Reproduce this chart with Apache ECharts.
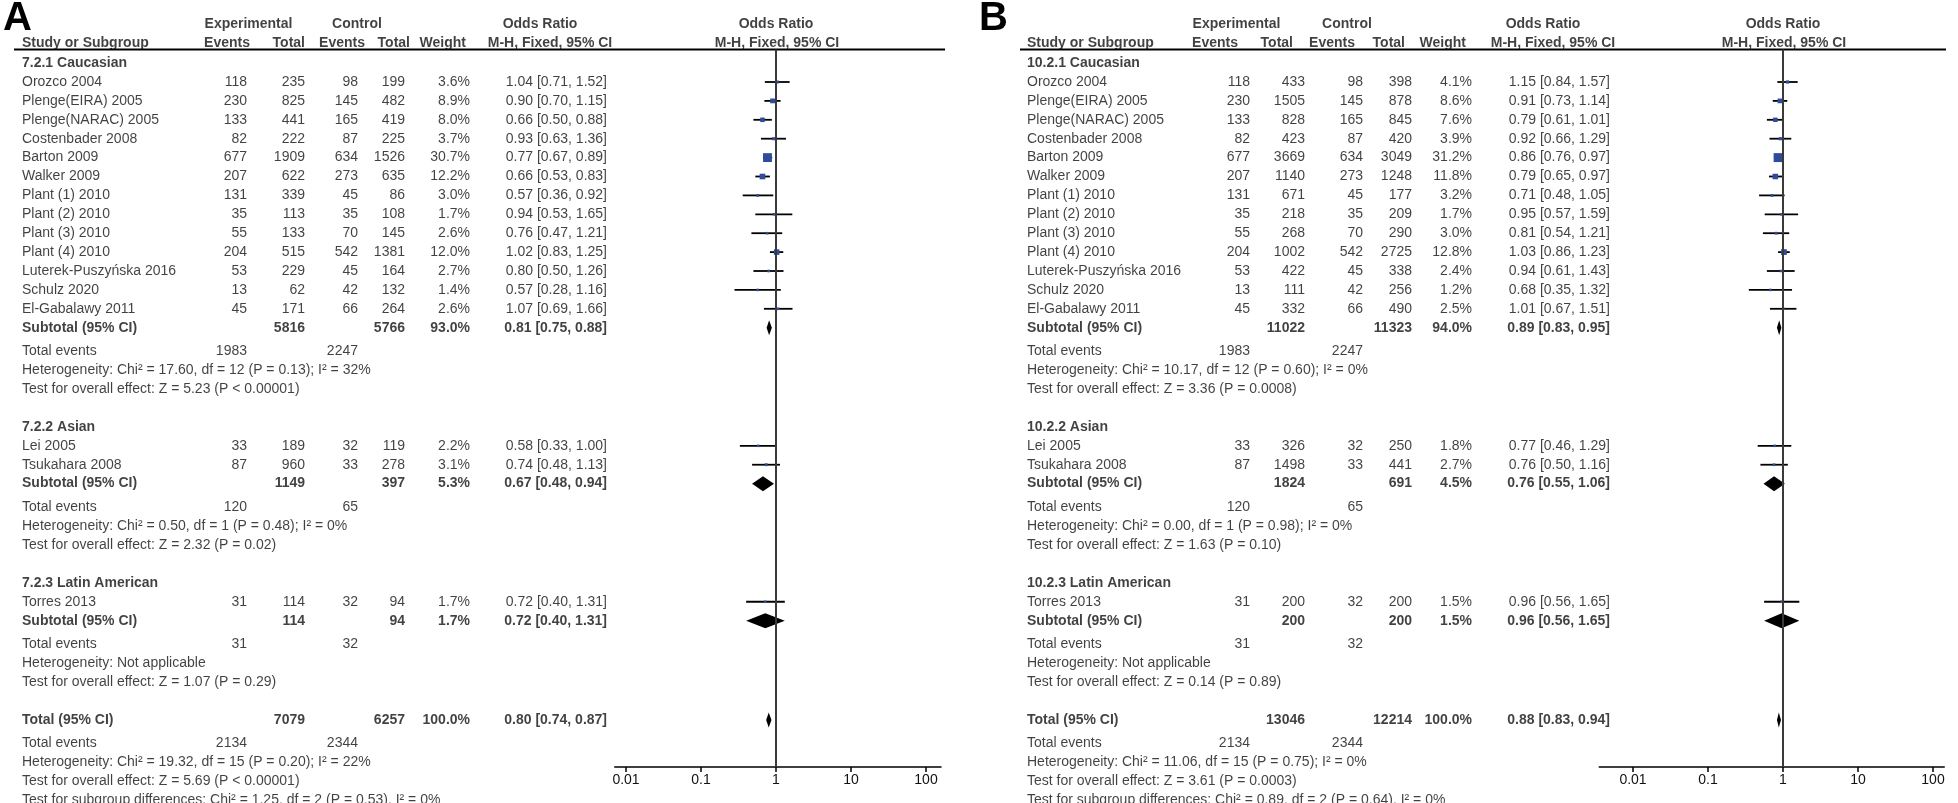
<!DOCTYPE html>
<html><head><meta charset="utf-8">
<script src="https://cdn.jsdelivr.net/npm/echarts@6/dist/echarts.min.js"></script>
<style>html,body{margin:0;padding:0;background:#fff}#c{width:1958px;height:803px}</style>
</head><body><div id="c"></div>
<script>
// ---------------- DATA ----------------
const studyNames = ['Orozco 2004','Plenge(EIRA) 2005','Plenge(NARAC) 2005','Costenbader 2008','Barton 2009','Walker 2009','Plant (1) 2010','Plant (2) 2010','Plant (3) 2010','Plant (4) 2010','Luterek-Puszyńska 2016','Schulz 2020','El-Gabalawy 2011','Lei 2005','Tsukahara 2008','Torres 2013'];
const groupSizes = [13, 2, 1];

// Panel A
const groupLabelsA = ['7.2.1 Caucasian','7.2.2 Asian','7.2.3 Latin American'];
const expEventsA  = [118,230,133,82,677,207,131,35,55,204,53,13,45, 33,87, 31];
const expTotalA   = [235,825,441,222,1909,622,339,113,133,515,229,62,171, 189,960, 114];
const ctrlEventsA = [98,145,165,87,634,273,45,35,70,542,45,42,66, 32,33, 32];
const ctrlTotalA  = [199,482,419,225,1526,635,86,108,145,1381,164,132,264, 119,278, 94];
const weightA     = [3.6,8.9,8.0,3.7,30.7,12.2,3.0,1.7,2.6,12.0,2.7,1.4,2.6, 2.2,3.1, 1.7];
const orA         = [1.04,0.90,0.66,0.93,0.77,0.66,0.57,0.94,0.76,1.02,0.80,0.57,1.07, 0.58,0.74, 0.72];
const loA         = [0.71,0.70,0.50,0.63,0.67,0.53,0.36,0.53,0.47,0.83,0.50,0.28,0.69, 0.33,0.48, 0.40];
const hiA         = [1.52,1.15,0.88,1.36,0.89,0.83,0.92,1.65,1.21,1.25,1.26,1.16,1.66, 1.00,1.13, 1.31];
const subExpTotalA  = [5816,1149,114];
const subCtrlTotalA = [5766,397,94];
const subWeightA    = [93.0,5.3,1.7];
const subOrA = [0.81,0.67,0.72];
const subLoA = [0.75,0.48,0.40];
const subHiA = [0.88,0.94,1.31];
const subExpEventsA  = [1983,120,31];
const subCtrlEventsA = [2247,65,32];
const subHetA  = ['Heterogeneity: Chi² = 17.60, df = 12 (P = 0.13); I² = 32%','Heterogeneity: Chi² = 0.50, df = 1 (P = 0.48); I² = 0%','Heterogeneity: Not applicable'];
const subTestA = ['Test for overall effect: Z = 5.23 (P < 0.00001)','Test for overall effect: Z = 2.32 (P = 0.02)','Test for overall effect: Z = 1.07 (P = 0.29)'];
const totalA = [7079, 6257, 100.0, 0.80, 0.74, 0.87]; // expTotal, ctrlTotal, weight, or, lo, hi
const totalEventsA = [2134, 2344];
const totalTextA = ['Heterogeneity: Chi² = 19.32, df = 15 (P = 0.20); I² = 22%','Test for overall effect: Z = 5.69 (P < 0.00001)','Test for subgroup differences: Chi² = 1.25, df = 2 (P = 0.53), I² = 0%'];

// Panel B
const groupLabelsB = ['10.2.1 Caucasian','10.2.2 Asian','10.2.3 Latin American'];
const expEventsB  = [118,230,133,82,677,207,131,35,55,204,53,13,45, 33,87, 31];
const expTotalB   = [433,1505,828,423,3669,1140,671,218,268,1002,422,111,332, 326,1498, 200];
const ctrlEventsB = [98,145,165,87,634,273,45,35,70,542,45,42,66, 32,33, 32];
const ctrlTotalB  = [398,878,845,420,3049,1248,177,209,290,2725,338,256,490, 250,441, 200];
const weightB     = [4.1,8.6,7.6,3.9,31.2,11.8,3.2,1.7,3.0,12.8,2.4,1.2,2.5, 1.8,2.7, 1.5];
const orB         = [1.15,0.91,0.79,0.92,0.86,0.79,0.71,0.95,0.81,1.03,0.94,0.68,1.01, 0.77,0.76, 0.96];
const loB         = [0.84,0.73,0.61,0.66,0.76,0.65,0.48,0.57,0.54,0.86,0.61,0.35,0.67, 0.46,0.50, 0.56];
const hiB         = [1.57,1.14,1.01,1.29,0.97,0.97,1.05,1.59,1.21,1.23,1.43,1.32,1.51, 1.29,1.16, 1.65];
const subExpTotalB  = [11022,1824,200];
const subCtrlTotalB = [11323,691,200];
const subWeightB    = [94.0,4.5,1.5];
const subOrB = [0.89,0.76,0.96];
const subLoB = [0.83,0.55,0.56];
const subHiB = [0.95,1.06,1.65];
const subExpEventsB  = [1983,120,31];
const subCtrlEventsB = [2247,65,32];
const subHetB  = ['Heterogeneity: Chi² = 10.17, df = 12 (P = 0.60); I² = 0%','Heterogeneity: Chi² = 0.00, df = 1 (P = 0.98); I² = 0%','Heterogeneity: Not applicable'];
const subTestB = ['Test for overall effect: Z = 3.36 (P = 0.0008)','Test for overall effect: Z = 1.63 (P = 0.10)','Test for overall effect: Z = 0.14 (P = 0.89)'];
const totalB = [13046, 12214, 100.0, 0.88, 0.83, 0.94];
const totalEventsB = [2134, 2344];
const totalTextB = ['Heterogeneity: Chi² = 11.06, df = 15 (P = 0.75); I² = 0%','Test for overall effect: Z = 3.61 (P = 0.0003)','Test for subgroup differences: Chi² = 0.89, df = 2 (P = 0.64), I² = 0%'];

const axisTicks = [0.01, 0.1, 1, 10, 100];

// ---------------- LAYOUT ----------------
const W = 1958, H = 803;
const FONT = "'Liberation Sans', Arial, Helvetica, sans-serif";
const U = 18.9, Y0 = 63.1;          // row pitch and first row position (px)
const yOf = px => (px - Y0) / U;
const PT = 49.5, PB = 767;          // plot top (header line) and axis line

const panels = [
  { letterX: 3, letter: 'A', studyX: 22,
    c: {evE: 247, totE: 305, evC: 358, totC: 405, wt: 470, orR: 607},
    h: {exp: 248.5, ctl: 357, orT: 540, mh: 550, evE: 250, totE: 305, evC: 365, totC: 410, wt: 466},
    plotC: 776, dec: 75, ext: [0.15, 0.2], line: [14, 945],
    groups: groupLabelsA, expEv: expEventsA, expTot: expTotalA, ctlEv: ctrlEventsA, ctlTot: ctrlTotalA,
    wt: weightA, or: orA, lo: loA, hi: hiA,
    sET: subExpTotalA, sCT: subCtrlTotalA, sW: subWeightA, sOr: subOrA, sLo: subLoA, sHi: subHiA,
    sEE: subExpEventsA, sCE: subCtrlEventsA, sHet: subHetA, sTest: subTestA,
    tot: totalA, totEv: totalEventsA, totTxt: totalTextA },
  { letterX: 979, letter: 'B', studyX: 1027,
    c: {evE: 1250, totE: 1305, evC: 1363, totC: 1412, wt: 1472, orR: 1610},
    h: {exp: 1236.5, ctl: 1347, orT: 1543, mh: 1553, evE: 1238, totE: 1293, evC: 1355, totC: 1405, wt: 1466},
    plotC: 1783, dec: 75, ext: [0.45, 0.15], line: [1020, 1946],
    groups: groupLabelsB, expEv: expEventsB, expTot: expTotalB, ctlEv: ctrlEventsB, ctlTot: ctrlTotalB,
    wt: weightB, or: orB, lo: loB, hi: hiB,
    sET: subExpTotalB, sCT: subCtrlTotalB, sW: subWeightB, sOr: subOrB, sLo: subLoB, sHi: subHiB,
    sEE: subExpEventsB, sCE: subCtrlEventsB, sHet: subHetB, sTest: subTestB,
    tot: totalB, totEv: totalEventsB, totTxt: totalTextB }
];

const fmtOR = (o, l, h) => o.toFixed(2) + ' [' + l.toFixed(2) + ', ' + h.toFixed(2) + ']';
const fmtW = w => w.toFixed(1) + '%';

const texts = {};
function addT(x, y, t, al, b) {
  const k = al + (b ? 'B' : 'N');
  (texts[k] = texts[k] || []).push([x, y, t]);
}

const studyMarks = [[], []];
const diamondMarks = [[], []];

panels.forEach((P, pi) => {
  const H1 = yOf(24), H2 = yOf(43.5);
  addT(P.h.exp, H1, 'Experimental', 'center', true);
  addT(P.h.ctl, H1, 'Control', 'center', true);
  addT(P.h.orT, H1, 'Odds Ratio', 'center', true);
  addT(P.plotC, H1, 'Odds Ratio', 'center', true);
  addT(P.studyX, H2, 'Study or Subgroup', 'left', true);
  addT(P.h.evE, H2, 'Events', 'right', true);
  addT(P.h.totE, H2, 'Total', 'right', true);
  addT(P.h.evC, H2, 'Events', 'right', true);
  addT(P.h.totC, H2, 'Total', 'right', true);
  addT(P.h.wt, H2, 'Weight', 'right', true);
  addT(P.h.mh, H2, 'M-H, Fixed, 95% CI', 'center', true);
  addT(P.plotC + 1, H2, 'M-H, Fixed, 95% CI', 'center', true);

  let v = 0, si = 0;
  groupSizes.forEach((n, g) => {
    addT(P.studyX, v, P.groups[g], 'left', true); v += 1;
    for (let k = 0; k < n; k++, si++) {
      addT(P.studyX, v, studyNames[si], 'left', false);
      addT(P.c.evE, v, String(P.expEv[si]), 'right', false);
      addT(P.c.totE, v, String(P.expTot[si]), 'right', false);
      addT(P.c.evC, v, String(P.ctlEv[si]), 'right', false);
      addT(P.c.totC, v, String(P.ctlTot[si]), 'right', false);
      addT(P.c.wt, v, fmtW(P.wt[si]), 'right', false);
      addT(P.c.orR, v, fmtOR(P.or[si], P.lo[si], P.hi[si]), 'right', false);
      studyMarks[pi].push([P.or[si], P.lo[si], P.hi[si], v, P.wt[si]]);
      v += 1;
    }
    addT(P.studyX, v, 'Subtotal (95% CI)', 'left', true);
    addT(P.c.totE, v, String(P.sET[g]), 'right', true);
    addT(P.c.totC, v, String(P.sCT[g]), 'right', true);
    addT(P.c.wt, v, fmtW(P.sW[g]), 'right', true);
    addT(P.c.orR, v, fmtOR(P.sOr[g], P.sLo[g], P.sHi[g]), 'right', true);
    diamondMarks[pi].push([P.sOr[g], P.sLo[g], P.sHi[g], v]);
    v += 1.25;
    addT(P.studyX, v, 'Total events', 'left', false);
    addT(P.c.evE, v, String(P.sEE[g]), 'right', false);
    addT(P.c.evC, v, String(P.sCE[g]), 'right', false);
    v += 1;
    addT(P.studyX, v, P.sHet[g], 'left', false); v += 1;
    addT(P.studyX, v, P.sTest[g], 'left', false); v += 2;
  });
  addT(P.studyX, v, 'Total (95% CI)', 'left', true);
  addT(P.c.totE, v, String(P.tot[0]), 'right', true);
  addT(P.c.totC, v, String(P.tot[1]), 'right', true);
  addT(P.c.wt, v, fmtW(P.tot[2]), 'right', true);
  addT(P.c.orR, v, fmtOR(P.tot[3], P.tot[4], P.tot[5]), 'right', true);
  diamondMarks[pi].push([P.tot[3], P.tot[4], P.tot[5], v]);
  v += 1.25;
  addT(P.studyX, v, 'Total events', 'left', false);
  addT(P.c.evE, v, String(P.totEv[0]), 'right', false);
  addT(P.c.evC, v, String(P.totEv[1]), 'right', false);
  v += 1;
  P.totTxt.forEach(t => { addT(P.studyX, v, t, 'left', false); v += 1; });
});

// ---------------- CHART ----------------
const chart = echarts.init(document.getElementById('c'), null, {width: W, height: H});

const grids = [{left: 0, top: 0, width: W, height: H}];
const xAxes = [{gridIndex: 0, type: 'value', min: 0, max: W, show: false}];
const yAxes = [{gridIndex: 0, type: 'value', min: yOf(0), max: yOf(H), inverse: true, show: false}];
const series = [];

Object.keys(texts).forEach(k => {
  const al = k.slice(0, -1), bold = k.slice(-1) === 'B';
  series.push({
    type: 'scatter', xAxisIndex: 0, yAxisIndex: 0, data: texts[k], symbolSize: 1, silent: true,
    itemStyle: {color: 'rgba(0,0,0,0)'},
    label: {show: true, position: 'inside', align: al, verticalAlign: 'middle',
      formatter: p => p.value[2], color: '#111', fontSize: 14, fontFamily: FONT,
      fontWeight: bold ? 'bold' : 'normal'}
  });
});

panels.forEach(P => {
  series.push({type: 'line', xAxisIndex: 0, yAxisIndex: 0, silent: true, symbol: 'none',
    data: [[P.line[0], yOf(PT)], [P.line[1], yOf(PT)]], lineStyle: {color: '#000', width: 2.2}});
});

const lo0 = axisTicks[0], hi0 = axisTicks[axisTicks.length - 1];
const decades = Math.log10(hi0 / lo0);

panels.forEach((P, pi) => {
  const gi = pi + 1;
  const eL = P.ext[0], eR = P.ext[1];
  grids.push({left: P.plotC - (decades / 2 + eL) * P.dec, top: PT,
    width: (decades + eL + eR) * P.dec, height: PB - PT});
  xAxes.push({gridIndex: gi, type: 'log', logBase: 10,
    min: lo0 / Math.pow(10, eL), max: hi0 * Math.pow(10, eR),
    axisLine: {show: true, onZero: false, lineStyle: {color: '#000', width: 1.5}},
    axisTick: {show: true, length: 5, customValues: axisTicks, lineStyle: {color: '#000', width: 1.5}},
    axisLabel: {show: true, margin: 6, customValues: axisTicks, color: '#111', fontSize: 14, fontFamily: FONT,
      formatter: val => String(Number(Number(val).toPrecision(6)))},
    splitLine: {show: false}, minorTick: {show: false}});
  yAxes.push({gridIndex: gi, type: 'value', min: yOf(PT), max: yOf(PB), inverse: true, show: false});

  // reference line at OR = 1
  series.push({type: 'line', xAxisIndex: gi, yAxisIndex: gi, silent: true, symbol: 'none',
    data: [[axisTicks[2], yOf(PT)], [axisTicks[2], yOf(PB)]], lineStyle: {color: '#3a3a3a', width: 2}});

  series.push({type: 'custom', xAxisIndex: gi, yAxisIndex: gi, silent: true,
    data: studyMarks[pi], encode: {x: [0, 1, 2], y: 3},
    renderItem: (params, api) => {
      const y = api.value(3);
      const a = api.coord([api.value(1), y]);
      const b = api.coord([api.value(2), y]);
      const c = api.coord([api.value(0), y]);
      const s = Math.max(2.5, 1.6 * Math.sqrt(api.value(4)));
      return {type: 'group', children: [
        {type: 'line', shape: {x1: a[0], y1: a[1], x2: b[0], y2: b[1]}, style: {stroke: '#000', lineWidth: 1.8}},
        {type: 'rect', shape: {x: c[0] - s / 2, y: c[1] - s / 2, width: s, height: s}, style: {fill: '#2f4b9b'}}
      ]};
    }});

  series.push({type: 'custom', xAxisIndex: gi, yAxisIndex: gi, silent: true,
    data: diamondMarks[pi], encode: {x: [0, 1, 2], y: 3},
    renderItem: (params, api) => {
      const y = api.value(3);
      const a = api.coord([api.value(1), y]);
      const b = api.coord([api.value(2), y]);
      const c = api.coord([api.value(0), y]);
      const h = 7.5;
      return {type: 'polygon', shape: {points: [[a[0], a[1]], [c[0], c[1] - h], [b[0], b[1]], [c[0], c[1] + h]]},
        style: {fill: '#000'}};
    }});
});

chart.setOption({
  animation: false,
  backgroundColor: '#fff',
  title: panels.map(P => ({text: P.letter, left: P.letterX, top: -1, padding: 0,
    textStyle: {fontSize: 40, fontWeight: 'bold', fontFamily: FONT, color: '#000', lineHeight: 40}})),
  grid: grids, xAxis: xAxes, yAxis: yAxes, series: series
});
</script>
</body></html>
